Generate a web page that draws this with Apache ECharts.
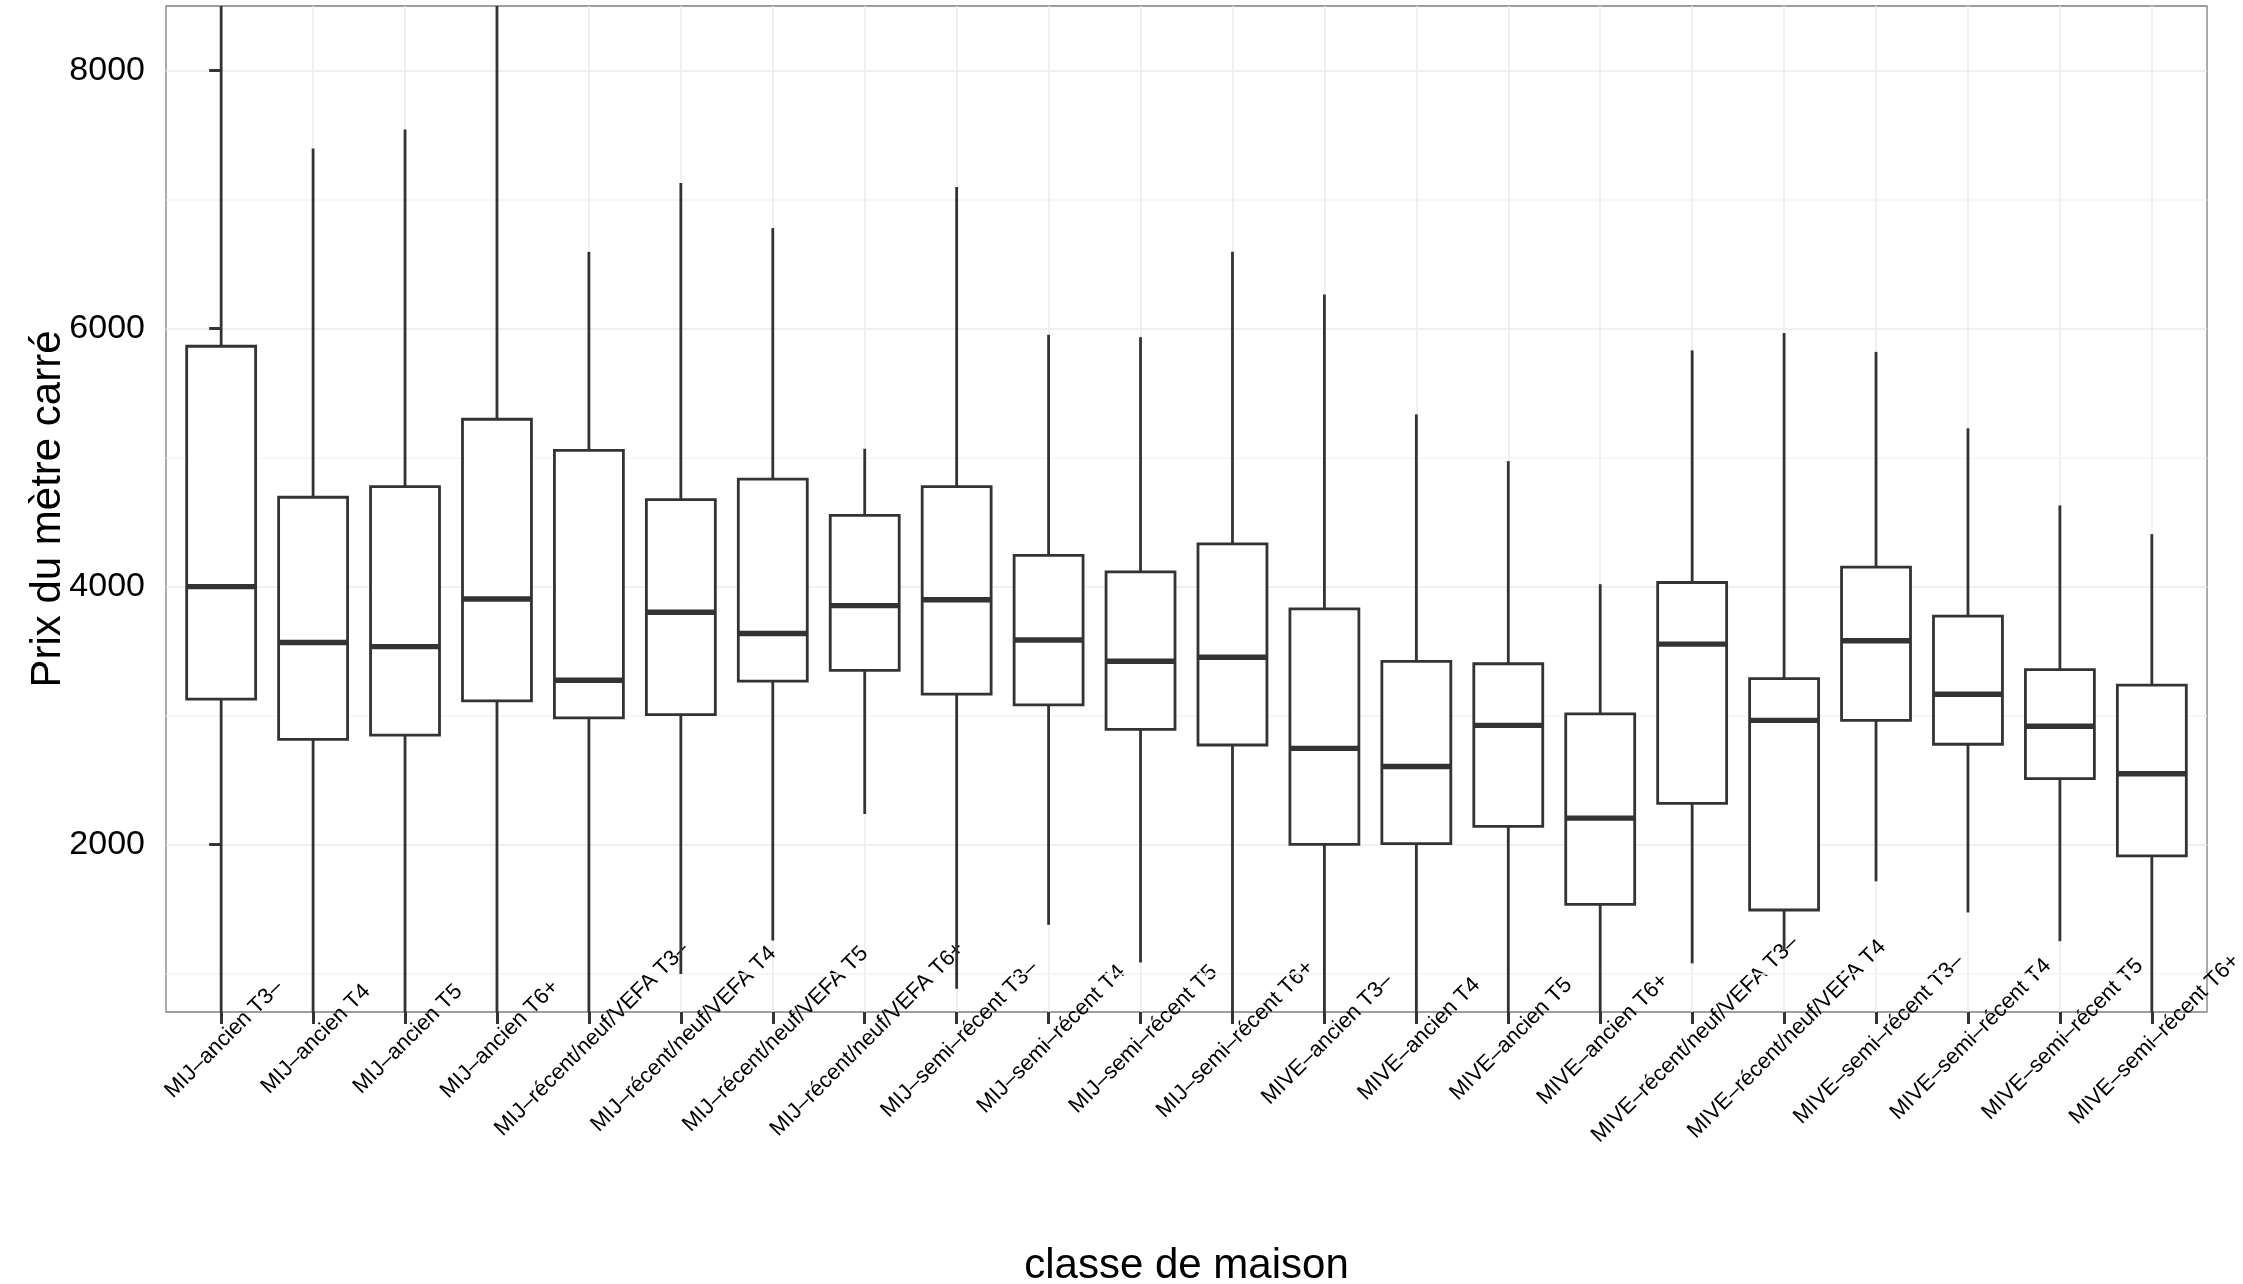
<!DOCTYPE html>
<html>
<head>
<meta charset="utf-8">
<script src="https://cdn.jsdelivr.net/npm/echarts@6/dist/echarts.min.js"></script>
<style>
html,body{margin:0;padding:0;background:#fff;}
#chart{width:2243px;height:1284px;}
</style>
</head>
<body>
<div id="chart"></div>
<script>
// ---- data ----
var categories = [
  "MIJ–ancien T3–", "MIJ–ancien T4", "MIJ–ancien T5", "MIJ–ancien T6+",
  "MIJ–récent/neuf/VEFA T3–", "MIJ–récent/neuf/VEFA T4", "MIJ–récent/neuf/VEFA T5", "MIJ–récent/neuf/VEFA T6+",
  "MIJ–semi–récent T3–", "MIJ–semi–récent T4", "MIJ–semi–récent T5", "MIJ–semi–récent T6+",
  "MIVE–ancien T3–", "MIVE–ancien T4", "MIVE–ancien T5", "MIVE–ancien T6+",
  "MIVE–récent/neuf/VEFA T3–", "MIVE–récent/neuf/VEFA T4",
  "MIVE–semi–récent T3–", "MIVE–semi–récent T4", "MIVE–semi–récent T5", "MIVE–semi–récent T6+"
];
// lower whisker ends (700 = runs past the bottom of the panel)
var whiskerLow  = [700, 700, 700, 700, 700, 995, 1255, 2235, 880, 1376, 1084, 700, 700, 700, 700, 700, 1077, 1173, 1713, 1472, 1249, 700];
var q1          = [3126, 2814, 2846, 3113, 2980, 3005, 3266, 3349, 3164, 3081, 2891, 2770, 2000, 2006, 2140, 1535, 2318, 1491, 2961, 2776, 2509, 1911];
var medians     = [3998, 3565, 3533, 3902, 3272, 3800, 3635, 3851, 3896, 3584, 3419, 3451, 2744, 2604, 2922, 2203, 3552, 2961, 3578, 3164, 2916, 2547];
var q3          = [5862, 4691, 4774, 5296, 5054, 4672, 4831, 4551, 4774, 4240, 4112, 4329, 3826, 3419, 3400, 3011, 4030, 3285, 4150, 3769, 3355, 3234];
// upper whisker ends (8500 = runs past the top of the panel)
var whiskerHigh = [8500, 7396, 7542, 8500, 6594, 7128, 6778, 5067, 7096, 5951, 5932, 6594, 6263, 5334, 4971, 4017, 5830, 5964, 5818, 5226, 4628, 4405];
var yTicks = [2000, 4000, 6000, 8000];
var yMinor = [1000, 3000, 5000, 7000];
var yTitle = "Prix du mètre carré";
var xTitle = "classe de maison";

var FONT = "'Liberation Sans', Arial, Helvetica, sans-serif";
var catIdx = categories.map(function (c, i) { return i; });
var boxData = categories.map(function (c, i) {
  return [i, whiskerLow[i], q1[i], medians[i], q3[i], whiskerHigh[i]];
});

var chart = echarts.init(document.getElementById('chart'), null, {renderer: 'canvas'});
chart.setOption({
  animation: false,
  backgroundColor: '#ffffff',
  grid: {
    left: 166, right: 36, top: 6, bottom: 272,
    show: true, backgroundColor: '#ffffff', borderColor: '#7f7f7f', borderWidth: 1.3,
    containLabel: false, outerBoundsMode: 'none'
  },
  xAxis: {
    type: 'value', min: -0.6, max: 21.6,
    axisLine: {show: false},
    axisTick: {show: true, customValues: catIdx, length: 12, lineStyle: {color: '#333333', width: 3}},
    axisLabel: {
      customValues: catIdx,
      formatter: function (v) { return categories[Math.round(v)]; },
      rotate: 45, align: 'center', verticalAlign: 'middle', margin: 30,
      padding: [0, 0, 0, 8],
      fontSize: 22, color: '#000000', fontFamily: FONT
    },
    splitLine: {show: true, lineStyle: {color: '#ebebeb', width: 1.5}},
    name: xTitle, nameLocation: 'middle', nameGap: 233,
    nameTextStyle: {fontSize: 42, color: '#000000', fontFamily: FONT}
  },
  yAxis: {
    type: 'value', min: 700, max: 8500,
    axisLine: {show: false},
    axisTick: {show: true, customValues: yTicks, length: 12, lineStyle: {color: '#333333', width: 3}},
    axisLabel: {
      customValues: yTicks, margin: 21, fontSize: 34, color: '#000000', fontFamily: FONT,
      formatter: function (v) { return String(v); }
    },
    splitLine: {show: true, lineStyle: {color: '#ebebeb', width: 1.5}},
    name: yTitle, nameLocation: 'middle', nameRotate: 90, nameGap: 97, nameMoveOverlap: false,
    nameTextStyle: {fontSize: 42, color: '#000000', fontFamily: FONT}
  },
  series: [
    {
      type: 'line', data: [], silent: true, z: 1,
      markLine: {
        silent: true, z: 1, symbol: ['none', 'none'], label: {show: false}, animation: false,
        lineStyle: {color: '#f4f4f4', width: 1.5, type: 'solid'},
        data: yMinor.map(function (v) { return {yAxis: v}; })
      }
    },
    {
      type: 'custom', z: 3, clip: true,
      data: boxData,
      encode: {x: 0, y: [1, 2, 3, 4, 5]},
      renderItem: function (params, api) {
        var i = api.value(0);
        var bw = api.size([1, 0])[0] * 0.75;
        var pLow = api.coord([i, api.value(1)]);
        var pQ1 = api.coord([i, api.value(2)]);
        var pMed = api.coord([i, api.value(3)]);
        var pQ3 = api.coord([i, api.value(4)]);
        var pHigh = api.coord([i, api.value(5)]);
        var x = pMed[0];
        var ls = {stroke: '#333333', lineWidth: 2.8};
        return {
          type: 'group',
          children: [
            {type: 'line', shape: {x1: x, y1: pQ3[1], x2: x, y2: pHigh[1]}, style: ls},
            {type: 'line', shape: {x1: x, y1: pLow[1], x2: x, y2: pQ1[1]}, style: ls},
            {type: 'rect', shape: {x: x - bw / 2, y: pQ3[1], width: bw, height: pQ1[1] - pQ3[1]},
              style: {fill: '#ffffff', stroke: '#333333', lineWidth: 2.8}},
            {type: 'line', shape: {x1: x - bw / 2, y1: pMed[1], x2: x + bw / 2, y2: pMed[1]},
              style: {stroke: '#333333', lineWidth: 5.4}}
          ]
        };
      }
    }
  ]
});
</script>
</body>
</html>
